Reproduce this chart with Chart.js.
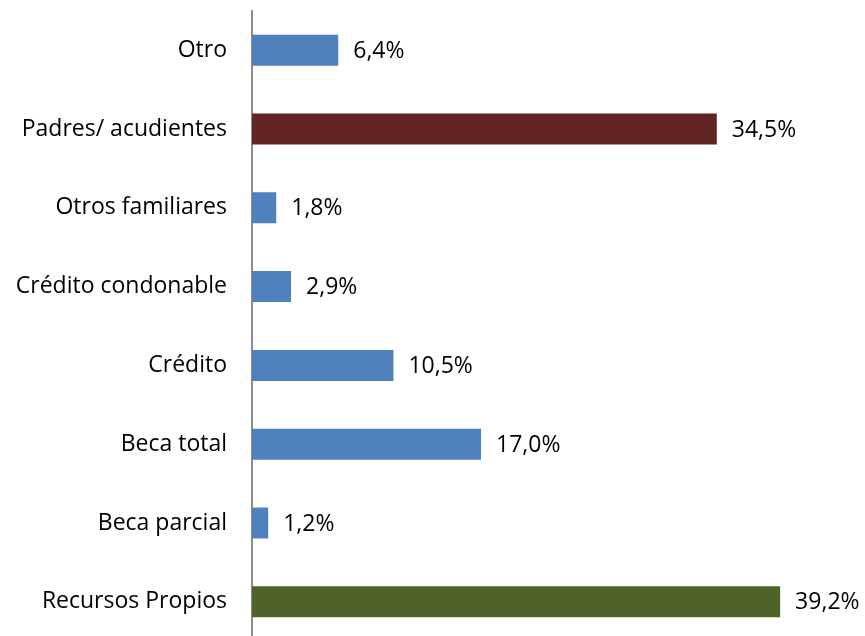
<!DOCTYPE html>
<html>
<head>
<meta charset="utf-8">
<script src="https://cdn.jsdelivr.net/npm/chart.js@4.4.0/dist/chart.umd.min.js"></script>
<style>
  html, body { margin: 0; padding: 0; background: #fff; overflow: hidden; }
  #wrap { width: 865px; height: 658px; margin-top: -3px; }
</style>
</head>
<body>
<div id="wrap"><canvas id="mycanvas"></canvas></div>
<script>
// fuentes de financiación, de arriba hacia abajo
var categorias = ['Otro', 'Padres/ acudientes', 'Otros familiares', 'Crédito condonable', 'Crédito', 'Beca total', 'Beca parcial', 'Recursos Propios'];
var porcentajes = [6.4, 34.5, 1.8, 2.9, 10.5, 17.0, 1.2, 39.2];
var colores = ['#4F81BD', '#632523', '#4F81BD', '#4F81BD', '#4F81BD', '#4F81BD', '#4F81BD', '#4F6228'];

var fuente = '"Open Sans", sans-serif';

// etiqueta con el valor al final de cada barra
var etiquetas = {
    id: 'etiquetas',
    afterDatasetsDraw: function(chart) {
        var ctx = chart.ctx;
        var meta = chart.getDatasetMeta(0);
        ctx.save();
        ctx.font = '23px ' + fuente;
        ctx.fillStyle = '#000';
        ctx.textBaseline = 'middle';
        ctx.textAlign = 'left';
        meta.data.forEach(function(bar, i) {
            var txt = porcentajes[i].toFixed(1).replace('.', ',') + '%';
            ctx.fillText(txt, bar.x + 15, bar.y + 1);
        });
        ctx.restore();
    }
};

var ctx = document.getElementById('mycanvas');
var barGraph = new Chart(ctx, {
    type: 'bar',
    data: {
        labels: categorias,
        datasets: [{
            data: porcentajes,
            backgroundColor: colores,
            borderWidth: 0,
            categoryPercentage: 1,
            barPercentage: 0.394
        }]
    },
    options: {
        indexAxis: 'y',
        responsive: true,
        maintainAspectRatio: false,
        animation: false,
        layout: { padding: { top: 10, right: 0, bottom: 0, left: 0 } },
        plugins: { legend: { display: false }, tooltip: { enabled: false } },
        scales: {
            x: { display: false, min: 0, max: 45.5 },
            y: {
                grid: { display: false, drawTicks: true, tickLength: 25, tickColor: 'rgba(0,0,0,0)' },
                border: { display: true, color: '#8C8C8C', width: 2 },
                ticks: { color: '#000', font: { family: fuente, size: 23 }, padding: 0 },
                afterFit: function(scale) { scale.width = 252; }
            }
        }
    },
    plugins: [etiquetas]
});
</script>
</body>
</html>
